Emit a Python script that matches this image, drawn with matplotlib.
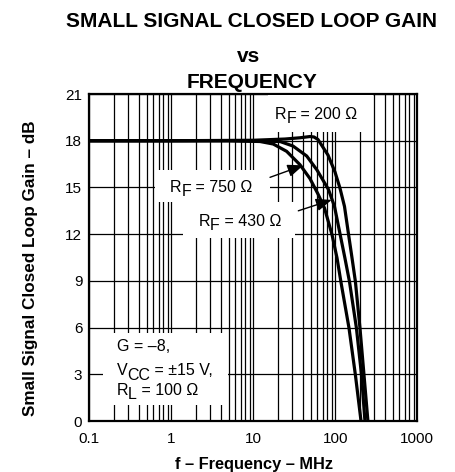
import numpy as np
import matplotlib
matplotlib.use("Agg")
import matplotlib.pyplot as plt
from matplotlib.patches import Rectangle
from matplotlib.ticker import LogLocator, NullFormatter

plt.rcParams['font.family'] = ['Liberation Sans', 'DejaVu Sans']

# frequency in MHz, gain in dB
freq_200 = [0.1, 1, 10, 24.4, 37.1, 49.1, 55, 61.5, 81.5, 99.2, 114, 129.5, 145, 160, 176, 200, 224, 250]
gain_200 = [18, 18, 18.03, 18.11, 18.19, 18.27, 18.24, 18.08, 17.08, 15.99, 14.96, 13.78, 12.0, 10.47, 8.95, 5.97, 2.95, 0]

freq_430 = [0.1, 1, 5, 12.1, 21.2, 30.5, 44.8, 59.8, 82.6, 97.8, 114, 131, 149, 181, 209, 230]
gain_430 = [18, 18, 18, 17.98, 17.95, 17.66, 17.02, 16.12, 14.87, 13.78, 12.04, 10.47, 8.95, 5.97, 2.95, 0]

freq_750 = [0.1, 1, 5, 12.1, 17.5, 25.5, 37.1, 49.1, 61.5, 73.8, 91.1, 105, 117, 147, 176, 206]
gain_750 = [18, 18, 18, 17.95, 17.79, 17.32, 16.46, 15.57, 14.58, 13.68, 11.98, 10.47, 8.95, 5.97, 2.95, 0]

xticks = [0.1, 1, 10, 100, 1000]
xticklabels = ['0.1', '1', '10', '100', '1000']
yticks = [0, 3, 6, 9, 12, 15, 18, 21]

fig = plt.figure(figsize=(4.56, 4.72), dpi=100)
ax = fig.add_axes([0.1958, 0.108, 0.7193, 0.6928])

for f, g in [(freq_200, gain_200), (freq_430, gain_430), (freq_750, gain_750)]:
    ax.plot(f, g, color='black', lw=2.3, zorder=5, solid_capstyle='butt', solid_joinstyle='round')

ax.set_xscale('log')
ax.set_xlim(0.1, 1000)
ax.set_ylim(0, 21)
ax.set_xticks(xticks)
ax.set_xticklabels(xticklabels)
ax.xaxis.set_minor_locator(LogLocator(base=10, subs=np.arange(2, 10)))
ax.xaxis.set_minor_formatter(NullFormatter())
ax.set_yticks(yticks)
ax.set_axisbelow(True)
ax.grid(which='both', axis='x', color='black', lw=0.9)
ax.grid(which='major', axis='y', color='black', lw=0.9)
ax.tick_params(which='both', length=0, labelsize=11)
ax.tick_params(axis='y', pad=5)
ax.tick_params(axis='x', pad=8)
for s in ax.spines.values():
    s.set_linewidth(1.6)


def sub_text(x, y, main, sub, rest, size=11.5, drop=3.2):
    # datasheet style: subscript at full size, only dropped below the baseline
    t1 = ax.text(x, y, main, fontsize=size, va='baseline', ha='left', zorder=4)
    t2 = ax.annotate(sub, xy=(1, 0), xycoords=t1, xytext=(0, -drop), textcoords='offset points',
                     fontsize=size, va='bottom', ha='left', zorder=4)
    ax.annotate(rest, xy=(1, 0), xycoords=t2, xytext=(0, drop), textcoords='offset points',
                fontsize=size, va='bottom', ha='left', zorder=4)


def white_box(f0, f1, g0, g1):
    ax.add_patch(Rectangle((f0, g0), f1 - f0, g1 - g0, fc='white', ec='none', zorder=3))


# curve labels
white_box(15.1, 288, 18.58, 20.95)
sub_text(18.4, 19.4, 'R', 'F', ' = 200 Ω')
white_box(0.633, 16.0, 14.07, 16.12)
sub_text(0.964, 14.73, 'R', 'F', ' = 750 Ω')
white_box(1.39, 32.2, 11.75, 14.07)
sub_text(2.135, 12.54, 'R', 'F', ' = 430 Ω')

arrow = dict(arrowstyle='-|>,head_length=0.95,head_width=0.38', color='black', lw=1.0, shrinkA=0, shrinkB=0)
ax.annotate('', xy=(40.7, 16.42), xytext=(16.0, 15.65), arrowprops=arrow, zorder=6)
ax.annotate('', xy=(90.3, 14.2), xytext=(35.4, 13.5), arrowprops=arrow, zorder=6)

# test conditions
white_box(0.147, 4.91, 1.03, 5.65)
ax.text(0.216, 4.5, 'G = –8,', fontsize=11.5, va='baseline', zorder=4)
sub_text(0.216, 2.95, 'V', 'CC', ' = ±15 V,')
sub_text(0.216, 1.67, 'R', 'L', ' = 100 Ω')

fig.text(251.5 / 456, 1 - 26.7 / 472, 'SMALL SIGNAL CLOSED LOOP GAIN', fontsize=15,
         fontweight='bold', ha='center', va='baseline')
fig.text(249 / 456, 1 - 62 / 472, 'vs', fontsize=15, fontweight='bold', ha='center', va='baseline')
fig.text(252 / 456, 1 - 88 / 472, 'FREQUENCY', fontsize=15, fontweight='bold', ha='center', va='baseline')

fig.text(31 / 456, 1 - 268 / 472, 'Small Signal Closed Loop Gain – dB', fontsize=12.3,
         fontweight='bold', rotation=90, ha='center', va='center')
fig.text(254 / 456, 1 - 465 / 472, 'f – Frequency – MHz', fontsize=11.8,
         fontweight='bold', ha='center', va='center')

fig.savefig('out.png', dpi=100)
